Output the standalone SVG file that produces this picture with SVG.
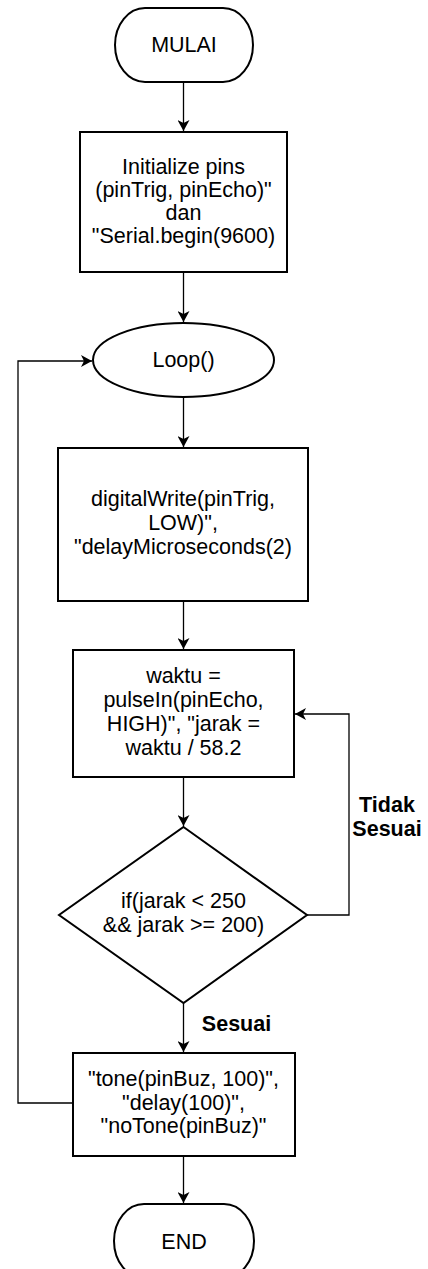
<svg xmlns="http://www.w3.org/2000/svg" width="428" height="1269" viewBox="0 0 428 1269">
<defs>
<marker id="arr" markerUnits="userSpaceOnUse" markerWidth="12" markerHeight="12" refX="11" refY="6" orient="auto" viewBox="0 0 12 12">
<path d="M0,0 L11,6 L0,12 L3,6 z" fill="#000"/>
</marker>
<style>
.shape{fill:#fff;stroke:#000;stroke-width:2}
.t{font-family:"Liberation Sans",Arial,sans-serif;font-size:21.5px;fill:#000;text-anchor:middle}
.b{font-weight:bold}
.c{fill:none;stroke:#000;stroke-width:1.3}
</style>
</defs>
<rect width="428" height="1269" fill="#fff"/>
<g id="connectors">
<path class="c" d="M183.5,82 V131" marker-end="url(#arr)"/>
<path class="c" d="M183.5,272 V322" marker-end="url(#arr)"/>
<path class="c" d="M183.5,397 V447" marker-end="url(#arr)"/>
<path class="c" d="M183.5,601 V649" marker-end="url(#arr)"/>
<path class="c" d="M183.5,777 V826" marker-end="url(#arr)"/>
<path class="c" d="M183.5,1003 V1052" marker-end="url(#arr)"/>
<path class="c" d="M183.5,1156 V1203" marker-end="url(#arr)"/>
<path class="c" d="M307,915 H349 V714 H295" marker-end="url(#arr)"/>
<path class="c" d="M73,1103 H18 V361 H92" marker-end="url(#arr)"/>
<text class="t b" x="387" y="811.5">Tidak</text>
<text class="t b" x="387" y="835.5">Sesuai</text>
<text class="t b" x="236.5" y="1031">Sesuai</text>
</g>
<g id="mulai">
<rect class="shape" x="115" y="8" width="138" height="74" rx="30" ry="37"/>
<text class="t" x="184" y="52">MULAI</text>
</g>
<g id="init">
<rect class="shape" x="80" y="132" width="207" height="140"/>
<text class="t" x="183.5" y="174">Initialize pins</text>
<text class="t" x="183.5" y="197">(pinTrig, pinEcho)"</text>
<text class="t" x="183.5" y="220">dan</text>
<text class="t" x="183.5" y="243">"Serial.begin(9600)</text>
</g>
<g id="loop">
<ellipse class="shape" cx="183.5" cy="360" rx="90.5" ry="37"/>
<text class="t" x="183.5" y="367">Loop()</text>
</g>
<g id="digitalwrite">
<rect class="shape" x="58" y="448" width="250" height="153"/>
<text class="t" x="183" y="506">digitalWrite(pinTrig,</text>
<text class="t" x="183" y="530">LOW)",</text>
<text class="t" x="183" y="554">"delayMicroseconds(2)</text>
</g>
<g id="waktu">
<rect class="shape" x="73" y="650" width="221" height="127"/>
<text class="t" x="183.5" y="683">waktu =</text>
<text class="t" x="183.5" y="707">pulseIn(pinEcho,</text>
<text class="t" x="183.5" y="731">HIGH)", "jarak =</text>
<text class="t" x="183.5" y="755">waktu / 58.2</text>
</g>
<g id="decision">
<polygon class="shape" points="183.5,827 307,915 183.5,1003 59,915"/>
<text class="t" x="183.5" y="908">if(jarak &lt; 250</text>
<text class="t" x="183.5" y="932">&amp;&amp; jarak &gt;= 200)</text>
</g>
<g id="tone">
<rect class="shape" x="73" y="1053" width="222" height="103"/>
<text class="t" x="183.5" y="1086">"tone(pinBuz, 100)",</text>
<text class="t" x="183.5" y="1109.5">"delay(100)",</text>
<text class="t" x="183.5" y="1133">"noTone(pinBuz)"</text>
</g>
<g id="end">
<rect class="shape" x="114" y="1204" width="140" height="74" rx="30" ry="37"/>
<text class="t" x="184" y="1248.5">END</text>
</g>
</svg>
